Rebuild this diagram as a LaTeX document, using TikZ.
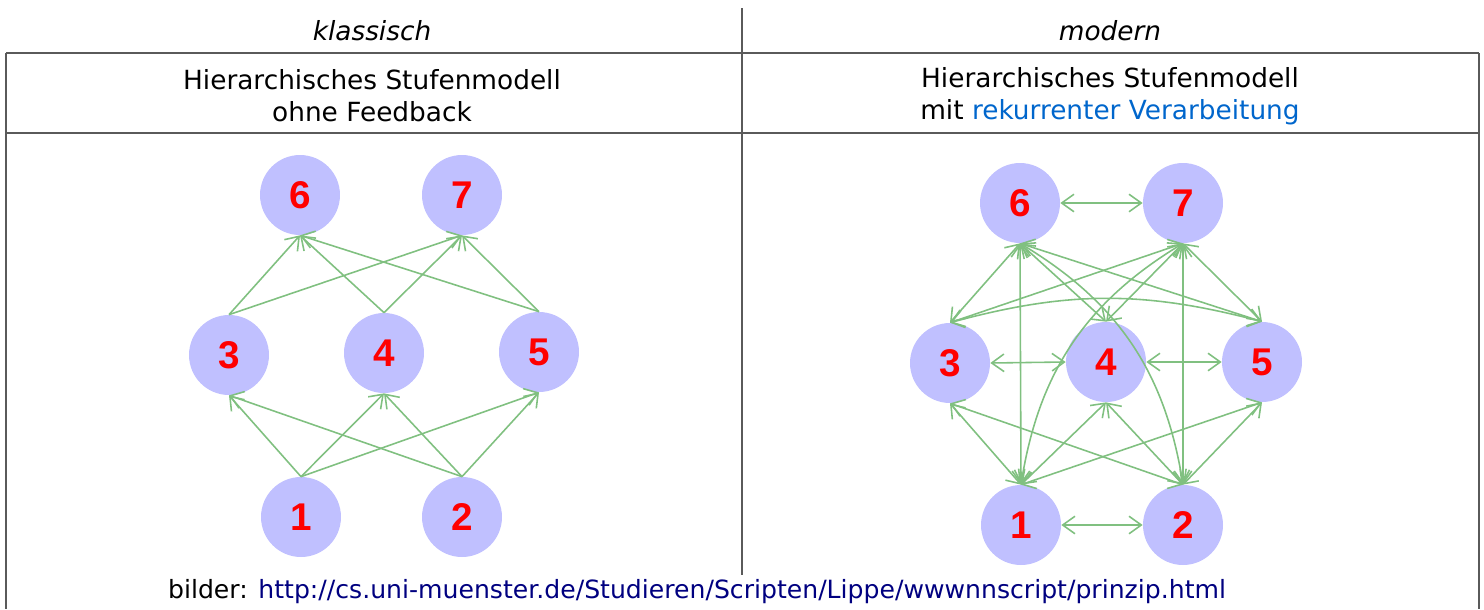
\documentclass[tikz,border=0pt]{standalone}
\usepackage{fontspec}
\setmainfont{DejaVu Sans}
\newfontfamily\numfont{Liberation Sans}
\usetikzlibrary{arrows.meta}
\definecolor{neuronblue}{RGB}{192,192,255}
\definecolor{synapsegreen}{RGB}{128,192,128}
\definecolor{rulegray}{RGB}{90,90,90}
\definecolor{linkblue}{RGB}{0,102,204}
\definecolor{urlblue}{RGB}{0,0,128}
\begin{document}
\begin{tikzpicture}[x=0.02cm,y=-0.02cm,
    font=\fontsize{15}{18.2}\selectfont,
    >={Straight Barb[length=7pt,width=10pt]},
    neuron/.style={circle,fill=neuronblue,minimum size=1.6cm,inner sep=0pt,
        text=red,font=\numfont\bfseries\fontsize{22}{22}\selectfont},
    synapse/.style={draw=synapsegreen,line width=0.9pt},
    rule/.style={draw=rulegray,line width=1.1pt}]
    \useasboundingbox (0,0) rectangle (1484,609);

    % table
    \draw[rule] (6,53) -- (1479,53);
    \draw[rule] (6,133) -- (1479,133);
    \draw[rule] (6,53) -- (6,609);
    \draw[rule] (1479,53) -- (1479,609);
    \draw[rule] (742,8) -- (742,609);

    \node[font=\fontsize{15}{18.2}\selectfont\itshape] (klassisch) at (372,31) {klassisch};
    \node[font=\fontsize{15}{18.2}\selectfont\itshape] (modern) at (1110,31) {modern};
    \node[align=center] (titleL) at (372,96) {Hierarchisches Stufenmodell\\ohne Feedback};
    \node[align=center] (titleR) at (1110,96) {Hierarchisches Stufenmodell\\mit \textcolor{linkblue}{rekurrenter Verarbeitung}};

    % klassisch: feedforward
    \node[neuron] (l6) at (300,195) {6};
    \node[neuron] (l7) at (462,195) {7};
    \node[neuron] (l3) at (229,355) {3};
    \node[neuron] (l4) at (384,353) {4};
    \node[neuron] (l5) at (539,352) {5};
    \node[neuron] (l1) at (301,517) {1};
    \node[neuron] (l2) at (462,517) {2};

    \foreach \a/\b in {1/3,1/4,1/5,2/3,2/4,2/5,3/6,3/7,4/6,4/7,5/6,5/7}
        \draw[synapse,->] (l\a.north) -- (l\b.south);

    % modern: rekurrent
    \node[neuron] (r6) at (1020,203) {6};
    \node[neuron] (r7) at (1183,203) {7};
    \node[neuron] (r3) at (950,363) {3};
    \node[neuron] (r4) at (1106,362) {4};
    \node[neuron] (r5) at (1262,362) {5};
    \node[neuron] (r1) at (1021,525) {1};
    \node[neuron] (r2) at (1183,525) {2};

    \foreach \a/\b in {1/3,1/4,1/5,2/3,2/4,2/5,3/6,3/7,4/6,4/7,5/6,5/7,1/6,2/7}
        \draw[synapse,<->] (r\a.north) -- (r\b.south);
    \foreach \a/\b in {6/7,1/2,3/4,4/5}
        \draw[synapse,<->] (r\a.east) -- (r\b.west);
    \draw[synapse,<->] (r1.north) to[bend left=25] (r7.south);
    \draw[synapse,<->] (r2.north) to[bend right=25] (r6.south);
    \draw[synapse,<->] (r3.north) to[bend left=15] (r5.north);

    \node[fill=white,inner sep=3pt,font=\fontsize{14.3}{17}\selectfont] (quelle) at (697,592)
        {bilder: \textcolor{urlblue}{http://cs.uni-muenster.de/Studieren/Scripten/Lippe/wwwnnscript/prinzip.html}};
\end{tikzpicture}
\end{document}
